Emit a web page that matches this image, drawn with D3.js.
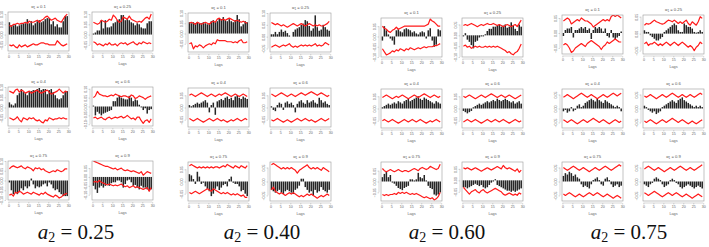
<!DOCTYPE html>
<html>
<head>
<meta charset="utf-8">
<script src="https://cdn.jsdelivr.net/npm/d3@7"></script>
<style>
  body { margin: 0; background: #fff; }
  svg { display: block; }
</style>
</head>
<body>
<div id="chart"></div>
<script>
'use strict';

// lags on the x axis of every small ACF panel
const lags = [1,2,3,4,5,6,7,8,9,10,11,12,13,14,15,16,17,18,19,20,21,22,23,24,25,26,27,28,29,30];
const a1Labels = ["0.1", "0.25", "0.4", "0.6", "0.75", "0.9"];
const a2Labels = ["0.25", "0.40", "0.60", "0.75"];
const xTicks = [0, 5, 10, 15, 20, 25, 30];
const yTicks = [-0.10, -0.05, 0.00, 0.05, 0.10];

// ---- a2 = 0.25 : six panels (a1 = 0.1 ... 0.9), bars + upper/lower red bands
const bars025 = [
  [0.06,0.045,0.045,0.05,0.04,0.045,0.05,0.055,0.055,0.075, 0.055,0.065,0.045,0.055,0.065,0.07,0.06,0.065,0.075,0.08, 0.08,0.05,0.065,0.04,0.05,0.035,0.035,0.065,0.09,0.09],
  [0.005,0.01,0.02,0.02,0.07,0.03,0.07,0.035,0.035,0.04, 0.055,0.06,0.07,0.075,0.095,0.095,0.07,0.075,0.07,0.06, 0.055,0.045,0.055,0.05,0.035,0.03,0.03,0.055,0.065,0.065],
  [0.025,0.015,0.01,0.02,0.06,0.07,0.09,0.075,0.07,0.06, 0.075,0.08,0.085,0.085,0.09,0.095,0.085,0.09,0.09,0.065, 0.085,0.09,0.075,0.06,0.045,0.04,0.045,0.06,0.075,0.08],
  [0.005,-0.05,-0.03,-0.04,-0.05,-0.04,-0.035,-0.03,-0.025,-0.02, 0.03,0.03,0.05,0.06,0.05,0.045,0.04,0.04,0.06,0.05, 0.03,0.04,0.035,0.01,-0.005,-0.02,-0.01,-0.04,-0.02,-0.015],
  [-0.01,-0.05,-0.07,-0.06,-0.07,-0.06,-0.04,-0.05,-0.03,-0.04, -0.03,0.01,-0.02,-0.04,-0.03,-0.035,-0.03,-0.02,-0.015,-0.03, -0.01,-0.02,-0.04,-0.05,-0.045,-0.06,-0.07,-0.08,-0.08,-0.08],
  [-0.05,-0.07,-0.09,-0.06,-0.05,-0.06,-0.05,-0.04,-0.05,-0.035, -0.03,-0.03,-0.02,-0.02,-0.03,-0.06,-0.04,-0.02,-0.015,-0.03, -0.05,-0.045,-0.06,-0.07,-0.05,-0.06,-0.06,-0.07,-0.08,-0.07]
];
const upper025 = [
  [0.045,0.04,0.05,0.05,0.055,0.05,0.055,0.055,0.06,0.055, 0.065,0.06,0.06,0.065,0.07,0.06,0.07,0.075,0.085,0.09, 0.08,0.07,0.075,0.08,0.07,0.065,0.06,0.075,0.09,0.1],
  [0.06,0.055,0.05,0.055,0.07,0.065,0.06,0.065,0.075,0.07, 0.095,0.085,0.07,0.06,0.065,0.085,0.08,0.075,0.09,0.075, 0.07,0.065,0.06,0.065,0.06,0.07,0.08,0.085,0.075,0.1],
  [0.08,0.075,0.07,0.085,0.09,0.075,0.085,0.08,0.07,0.075, 0.08,0.07,0.075,0.08,0.085,0.075,0.07,0.075,0.08,0.085, 0.075,0.065,0.07,0.075,0.08,0.09,0.08,0.07,0.08,0.075],
  [0.05,0.06,0.085,0.07,0.065,0.06,0.06,0.055,0.06,0.065, 0.06,0.07,0.065,0.06,0.055,0.06,0.06,0.055,0.05,0.065, 0.06,0.045,0.05,0.06,0.055,0.05,0.04,0.05,0.055,0.06],
  [0.06,0.07,0.075,0.07,0.065,0.07,0.075,0.065,0.06,0.07, 0.065,0.06,0.05,0.065,0.06,0.065,0.055,0.06,0.05,0.045, 0.04,0.045,0.05,0.045,0.055,0.05,0.045,0.05,0.06,0.06],
  [0.09,0.085,0.08,0.075,0.07,0.065,0.06,0.06,0.055,0.05, 0.045,0.05,0.04,0.045,0.05,0.04,0.035,0.04,0.035,0.03, 0.035,0.03,0.025,0.02,0.03,0.01,0.02,0.03,0.025,0.02]
];
const lower025 = [
  [-0.05,-0.055,-0.05,-0.06,-0.065,-0.05,-0.06,-0.055,-0.05,-0.06, -0.055,-0.05,-0.045,-0.05,-0.05,-0.045,-0.04,-0.04,-0.045,-0.045, -0.05,-0.05,-0.05,-0.05,-0.03,-0.04,-0.05,-0.055,-0.05,-0.045],
  [-0.035,-0.04,-0.05,-0.045,-0.05,-0.055,-0.045,-0.05,-0.04,-0.05, -0.05,-0.045,-0.055,-0.045,-0.04,-0.045,-0.04,-0.05,-0.045,-0.04, -0.035,-0.045,-0.05,-0.04,-0.045,-0.035,-0.04,-0.045,-0.04,-0.045],
  [-0.05,-0.055,-0.06,-0.055,-0.045,-0.06,-0.07,-0.05,-0.055,-0.06, -0.05,-0.055,-0.05,-0.06,-0.065,-0.06,-0.07,-0.075,-0.06,-0.065, -0.05,-0.055,-0.06,-0.055,-0.055,-0.05,-0.055,-0.05,-0.055,-0.055],
  [-0.065,-0.06,-0.07,-0.065,-0.06,-0.07,-0.075,-0.065,-0.06,-0.07, -0.065,-0.06,-0.065,-0.06,-0.055,-0.065,-0.06,-0.05,-0.06,-0.07, -0.065,-0.075,-0.06,-0.06,-0.08,-0.095,-0.08,-0.075,-0.09,-0.07],
  [-0.075,-0.07,-0.08,-0.06,-0.065,-0.055,-0.06,-0.07,-0.065,-0.06, -0.065,-0.07,-0.06,-0.065,-0.07,-0.075,-0.065,-0.07,-0.06,-0.07, -0.075,-0.08,-0.085,-0.075,-0.08,-0.09,-0.085,-0.075,-0.07,-0.065],
  [-0.03,-0.025,-0.03,-0.02,-0.03,-0.035,-0.04,-0.045,-0.04,-0.045, -0.05,-0.045,-0.05,-0.045,-0.04,-0.05,-0.055,-0.05,-0.06,-0.055, -0.05,-0.06,-0.055,-0.06,-0.065,-0.07,-0.065,-0.06,-0.08,-0.06]
];
const yRange025 = [[-0.08,0.11],[-0.08,0.11],[-0.09,0.10],[-0.11,0.11],[-0.10,0.10],[-0.13,0.09]];

// ---- a2 = 0.40
const bars040 = [
  [0.055,0.05,0.055,0.05,0.055,0.05,0.05,0.055,0.05,0.045, 0.05,0.06,0.065,0.055,0.06,0.075,0.07,0.08,0.065,0.06, 0.07,0.06,0.055,0.065,0.09,0.07,0.035,0.045,0.06,0.055],
  [0.01,0.01,0.02,0.01,0.02,0.03,0.02,0.025,0.015,0.005, 0.0,0.02,0.03,0.035,0.04,0.05,0.055,0.07,0.065,0.045, 0.025,0.035,0.09,0.04,0.025,0.03,0.05,0.04,0.03,0.025],
  [0.01,0.005,0.01,0.015,0.02,0.015,0.02,0.025,0.03,0.02, -0.02,0.01,0.02,-0.03,0.025,0.03,0.035,0.03,0.04,0.045, 0.035,0.04,0.03,0.045,0.05,0.04,0.035,0.045,0.04,0.035],
  [0.005,-0.01,-0.015,0.01,0.02,0.015,-0.01,0.02,0.025,0.015, 0.02,0.01,-0.02,0.015,0.025,0.03,0.02,0.015,0.03,0.02, 0.025,0.03,0.02,0.015,0.04,0.03,0.02,0.025,0.015,0.01],
  [0.03,0.025,0.01,-0.01,0.04,0.02,-0.01,-0.005,-0.02,-0.03, -0.04,-0.06,-0.05,-0.03,-0.02,-0.035,-0.025,-0.015,-0.01,-0.02, 0.01,0.02,-0.005,-0.01,-0.01,-0.02,-0.04,-0.035,-0.05,-0.06],
  [-0.03,-0.035,-0.04,-0.035,-0.03,-0.04,-0.045,-0.035,-0.03,-0.035, -0.04,-0.045,-0.03,-0.025,-0.015,0.01,0.01,-0.02,-0.03,-0.04, -0.035,-0.05,-0.03,-0.04,-0.035,-0.02,-0.03,-0.035,-0.04,-0.03]
];
const upper040 = [
  [0.05,0.055,0.05,0.045,0.055,0.05,0.045,0.05,0.055,0.05, 0.045,0.055,0.06,0.055,0.07,0.075,0.065,0.07,0.065,0.07, 0.075,0.07,0.065,0.06,0.065,0.06,0.055,0.06,0.055,0.05],
  [0.06,0.055,0.05,0.055,0.05,0.045,0.05,0.045,0.04,0.045, 0.05,0.055,0.05,0.045,0.05,0.055,0.05,0.045,0.05,0.055, 0.05,0.045,0.05,0.045,0.05,0.045,0.045,0.05,0.055,0.065],
  [0.05,0.055,0.05,0.045,0.05,0.055,0.06,0.055,0.05,0.045, 0.05,0.055,0.05,0.045,0.05,0.055,0.05,0.055,0.06,0.055, 0.05,0.045,0.05,0.055,0.05,0.045,0.05,0.055,0.05,0.045],
  [0.055,0.05,0.045,0.05,0.055,0.06,0.055,0.05,0.045,0.05, 0.055,0.05,0.045,0.05,0.055,0.06,0.055,0.05,0.055,0.06, 0.065,0.06,0.055,0.05,0.055,0.06,0.055,0.05,0.045,0.05],
  [0.065,0.07,0.065,0.06,0.055,0.06,0.055,0.06,0.055,0.06, 0.055,0.06,0.055,0.06,0.06,0.055,0.06,0.065,0.06,0.07, 0.065,0.06,0.055,0.065,0.06,0.055,0.065,0.06,0.055,0.065],
  [0.06,0.065,0.06,0.055,0.05,0.045,0.05,0.045,0.05,0.045, 0.05,0.045,0.04,0.03,0.04,0.045,0.05,0.055,0.06,0.05, 0.045,0.05,0.045,0.05,0.045,0.04,0.05,0.045,0.04,0.035]
];
const lower040 = [
  [-0.05,-0.045,-0.075,-0.06,-0.065,-0.055,-0.06,-0.07,-0.06,-0.055, -0.05,-0.055,-0.045,-0.05,-0.03,-0.035,-0.035,-0.035,-0.035,-0.04, -0.04,-0.04,-0.045,-0.04,-0.045,-0.035,-0.03,-0.045,-0.045,-0.04],
  [-0.045,-0.04,-0.035,-0.04,-0.045,-0.04,-0.035,-0.04,-0.035,-0.03, -0.04,-0.045,-0.04,-0.045,-0.04,-0.035,-0.04,-0.035,-0.04,-0.035, -0.04,-0.035,-0.03,-0.04,-0.035,-0.04,-0.035,-0.025,-0.03,-0.035],
  [-0.045,-0.05,-0.055,-0.05,-0.045,-0.05,-0.055,-0.06,-0.055,-0.05, -0.045,-0.05,-0.055,-0.05,-0.045,-0.05,-0.055,-0.05,-0.055,-0.06, -0.055,-0.05,-0.055,-0.05,-0.045,-0.05,-0.055,-0.05,-0.045,-0.05],
  [-0.05,-0.055,-0.05,-0.045,-0.05,-0.055,-0.06,-0.055,-0.05,-0.055, -0.06,-0.055,-0.05,-0.045,-0.05,-0.055,-0.05,-0.045,-0.05,-0.055, -0.05,-0.055,-0.06,-0.055,-0.05,-0.045,-0.05,-0.055,-0.05,-0.045],
  [-0.045,-0.05,-0.045,-0.04,-0.045,-0.05,-0.045,-0.04,-0.035,-0.03, -0.035,-0.04,-0.03,-0.035,-0.04,-0.045,-0.05,-0.045,-0.05,-0.045, -0.05,-0.055,-0.05,-0.055,-0.05,-0.055,-0.06,-0.055,-0.065,-0.065],
  [-0.03,-0.02,-0.035,-0.04,-0.045,-0.04,-0.045,-0.05,-0.045,-0.04, -0.045,-0.04,-0.045,-0.05,-0.055,-0.05,-0.055,-0.05,-0.045,-0.05, -0.045,-0.05,-0.055,-0.06,-0.055,-0.05,-0.055,-0.05,-0.045,-0.05]
];
const yRange040 = [[-0.09,0.10],[-0.065,0.10],[-0.08,0.08],[-0.08,0.08],[-0.08,0.08],[-0.07,0.07]];

// ---- a2 = 0.60
const bars060 = [
  [-0.02,0.05,0.03,0.01,-0.01,-0.02,-0.04,0.03,0.035,0.025, 0.02,0.035,0.04,0.035,0.03,0.02,0.025,0.015,0.01,0.02, 0.025,0.02,-0.01,0.03,0.04,-0.02,-0.05,-0.04,0.035,0.03],
  [-0.005,0.01,-0.02,-0.03,-0.045,-0.06,-0.03,-0.025,-0.01,-0.005, -0.005,0.005,0.02,0.03,0.03,0.04,0.04,0.045,0.05,0.04, 0.045,0.05,0.035,0.04,0.06,0.045,0.03,0.02,0.05,0.04],
  [0.005,0.01,0.015,0.02,0.015,0.02,0.025,0.02,0.03,0.025, 0.02,0.03,0.035,0.04,0.03,0.035,0.04,0.045,0.05,0.04, 0.035,0.045,0.04,0.035,0.03,0.025,0.02,0.03,0.025,0.02],
  [-0.01,-0.015,-0.02,-0.015,-0.01,0.005,0.01,0.015,0.02,0.015, 0.02,0.025,0.03,0.025,0.03,0.035,0.03,0.04,0.035,0.03, 0.035,0.04,0.035,0.03,0.025,0.03,0.02,0.025,0.03,0.02],
  [0.02,0.035,0.045,0.02,0.03,-0.005,-0.01,-0.02,-0.03,-0.035, -0.04,-0.03,-0.025,-0.02,0.01,0.01,0.005,0.01,0.04,0.02, 0.015,0.03,0.005,-0.02,-0.03,-0.035,-0.06,-0.065,-0.06,-0.05],
  [-0.03,-0.03,-0.035,-0.03,-0.025,-0.02,-0.015,-0.02,-0.025,-0.02, -0.03,-0.035,-0.03,-0.02,-0.01,-0.005,0.005,-0.02,-0.025,-0.03, -0.035,-0.04,-0.045,-0.045,-0.05,-0.045,-0.05,-0.045,-0.04,-0.035]
];
const upper060 = [
  [0.05,0.04,0.035,0.025,0.02,0.03,0.035,0.045,0.035,0.04, 0.045,0.05,0.05,0.05,0.05,0.05,0.05,0.05,0.05,0.05, 0.05,0.05,0.055,0.06,0.085,0.075,0.07,0.06,0.05,0.05],
  [0.045,0.05,0.045,0.05,0.055,0.05,0.045,0.04,0.045,0.05, 0.045,0.05,0.055,0.05,0.05,0.055,0.05,0.045,0.05,0.045, 0.04,0.045,0.05,0.045,0.04,0.045,0.05,0.04,0.055,0.07],
  [0.045,0.05,0.055,0.05,0.045,0.04,0.045,0.05,0.045,0.05, 0.055,0.05,0.045,0.04,0.045,0.05,0.055,0.05,0.045,0.05, 0.055,0.06,0.055,0.05,0.045,0.05,0.055,0.05,0.045,0.05],
  [0.05,0.045,0.05,0.055,0.05,0.045,0.04,0.045,0.05,0.055, 0.05,0.045,0.05,0.055,0.06,0.055,0.05,0.045,0.05,0.055, 0.05,0.045,0.05,0.055,0.05,0.045,0.04,0.045,0.05,0.055],
  [0.06,0.05,0.045,0.05,0.055,0.05,0.045,0.05,0.055,0.05, 0.045,0.05,0.05,0.045,0.05,0.055,0.06,0.055,0.05,0.06, 0.065,0.06,0.055,0.06,0.07,0.065,0.06,0.055,0.06,0.08],
  [0.055,0.05,0.055,0.05,0.045,0.05,0.055,0.05,0.045,0.04, 0.045,0.05,0.055,0.05,0.045,0.05,0.055,0.06,0.055,0.05, 0.065,0.055,0.05,0.055,0.05,0.045,0.04,0.05,0.035,0.045]
];
const lower060 = [
  [-0.06,-0.075,-0.09,-0.085,-0.08,-0.07,-0.075,-0.065,-0.07,-0.06, -0.065,-0.07,-0.06,-0.065,-0.055,-0.06,-0.065,-0.06,-0.055,-0.06, -0.055,-0.05,-0.055,-0.05,-0.05,-0.05,-0.045,-0.045,-0.04,-0.035],
  [-0.05,-0.045,-0.055,-0.05,-0.06,-0.055,-0.05,-0.055,-0.05,-0.055, -0.055,-0.05,-0.055,-0.05,-0.055,-0.05,-0.055,-0.05,-0.055,-0.06, -0.065,-0.07,-0.08,-0.075,-0.085,-0.09,-0.08,-0.075,-0.06,-0.04],
  [-0.05,-0.045,-0.05,-0.055,-0.05,-0.045,-0.05,-0.055,-0.06,-0.055, -0.05,-0.045,-0.05,-0.055,-0.05,-0.045,-0.05,-0.055,-0.05,-0.045, -0.05,-0.055,-0.06,-0.055,-0.05,-0.055,-0.05,-0.045,-0.05,-0.055],
  [-0.055,-0.05,-0.045,-0.05,-0.055,-0.05,-0.045,-0.05,-0.055,-0.06, -0.055,-0.05,-0.045,-0.05,-0.055,-0.05,-0.045,-0.05,-0.055,-0.05, -0.045,-0.05,-0.055,-0.06,-0.055,-0.05,-0.045,-0.05,-0.055,-0.05],
  [-0.06,-0.065,-0.06,-0.065,-0.06,-0.06,-0.055,-0.06,-0.05,-0.055, -0.05,-0.055,-0.05,-0.055,-0.06,-0.055,-0.06,-0.055,-0.06,-0.065, -0.07,-0.075,-0.07,-0.075,-0.08,-0.075,-0.085,-0.08,-0.07,-0.05],
  [-0.03,-0.04,-0.05,-0.06,-0.05,-0.045,-0.04,-0.05,-0.055,-0.045, -0.04,-0.05,-0.055,-0.05,-0.045,-0.04,-0.035,-0.04,-0.045,-0.05, -0.06,-0.065,-0.06,-0.055,-0.06,-0.065,-0.06,-0.065,-0.055,-0.06]
];
const yRange060 = [[-0.10,0.09],[-0.10,0.08],[-0.08,0.08],[-0.08,0.08],[-0.09,0.09],[-0.09,0.08]];

// ---- a2 = 0.75
const bars075 = [
  [-0.01,0.01,0.015,0.015,0.02,-0.015,0.01,0.01,0.015,0.02, 0.015,0.02,0.01,0.015,-0.02,0.01,0.02,0.015,0.02,0.015, 0.005,0.015,-0.01,-0.015,0.01,-0.015,-0.02,-0.015,-0.01,0.005],
  [0.01,0.005,0.005,-0.005,-0.01,-0.015,-0.02,-0.02,-0.015,-0.01, 0.005,0.01,0.015,0.02,0.025,0.03,0.025,0.01,0.005,0.005, 0.03,0.025,0.02,0.02,0.015,0.005,0.003,0.005,0.01,0.005],
  [-0.01,-0.005,-0.015,-0.01,0.005,-0.01,-0.005,0.01,0.015,0.005, 0.01,0.02,0.025,0.03,0.035,0.03,0.025,0.035,0.03,0.025, 0.02,0.03,0.025,0.02,0.015,0.01,0.005,0.01,0.005,-0.01],
  [0.01,0.005,-0.005,-0.01,-0.015,-0.01,-0.02,-0.015,-0.01,0.005, 0.01,0.015,0.02,0.025,0.03,0.025,0.02,0.03,0.035,0.04, 0.03,0.025,0.02,0.015,0.01,0.005,0.01,0.005,0.01,0.005],
  [0.02,0.03,0.025,0.035,0.03,0.02,0.025,0.015,0.01,-0.01, -0.02,-0.015,-0.02,-0.025,-0.01,0.005,0.01,0.015,0.005,-0.01, -0.015,0.01,0.015,0.005,-0.01,-0.02,-0.015,-0.01,-0.02,-0.015],
  [-0.01,-0.015,-0.02,-0.01,-0.005,0.01,0.015,0.01,0.005,-0.01, -0.02,-0.015,-0.01,0.005,0.01,0.005,-0.005,-0.01,-0.02,-0.025, -0.02,-0.015,-0.01,-0.015,-0.02,-0.025,-0.02,-0.015,-0.02,-0.025]
];
const upper075 = [
  [0.04,0.045,0.05,0.045,0.03,0.035,0.04,0.045,0.04,0.05, 0.045,0.04,0.04,0.035,0.03,0.02,0.025,0.03,0.035,0.04, 0.045,0.04,0.045,0.04,0.055,0.06,0.055,0.06,0.055,0.05],
  [0.025,0.03,0.028,0.03,0.035,0.04,0.035,0.033,0.03,0.028, 0.03,0.035,0.04,0.038,0.035,0.04,0.035,0.03,0.035,0.03, 0.035,0.04,0.03,0.025,0.035,0.03,0.025,0.035,0.05,0.045],
  [0.04,0.045,0.05,0.045,0.04,0.035,0.04,0.045,0.05,0.055, 0.05,0.045,0.04,0.045,0.05,0.045,0.04,0.035,0.04,0.045, 0.05,0.045,0.04,0.045,0.05,0.055,0.05,0.045,0.05,0.055],
  [0.045,0.04,0.045,0.05,0.045,0.04,0.035,0.04,0.045,0.05, 0.045,0.04,0.045,0.05,0.055,0.05,0.045,0.04,0.045,0.05, 0.045,0.04,0.045,0.05,0.045,0.04,0.045,0.05,0.055,0.05],
  [0.05,0.045,0.04,0.045,0.05,0.055,0.05,0.045,0.04,0.045, 0.05,0.045,0.04,0.035,0.04,0.045,0.05,0.045,0.04,0.045, 0.05,0.055,0.05,0.045,0.04,0.045,0.05,0.055,0.06,0.055],
  [0.045,0.05,0.055,0.05,0.045,0.04,0.045,0.05,0.045,0.04, 0.035,0.04,0.045,0.05,0.045,0.04,0.045,0.05,0.055,0.05, 0.045,0.04,0.045,0.05,0.045,0.04,0.045,0.05,0.055,0.06]
];
const lower075 = [
  [-0.04,-0.035,-0.04,-0.05,-0.065,-0.06,-0.05,-0.045,-0.04,-0.035, -0.04,-0.045,-0.035,-0.03,-0.025,-0.03,-0.035,-0.04,-0.045,-0.055, -0.045,-0.04,-0.03,-0.035,-0.03,-0.025,-0.02,-0.025,-0.03,-0.03],
  [-0.03,-0.025,-0.035,-0.03,-0.03,-0.025,-0.03,-0.035,-0.03,-0.035, -0.03,-0.025,-0.03,-0.035,-0.03,-0.025,-0.03,-0.035,-0.03,-0.025, -0.03,-0.035,-0.04,-0.035,-0.04,-0.05,-0.04,-0.035,-0.025,-0.03],
  [-0.04,-0.045,-0.05,-0.045,-0.04,-0.045,-0.05,-0.055,-0.05,-0.045, -0.04,-0.045,-0.05,-0.045,-0.04,-0.035,-0.04,-0.045,-0.05,-0.045, -0.04,-0.045,-0.05,-0.055,-0.05,-0.045,-0.04,-0.045,-0.05,-0.045],
  [-0.045,-0.05,-0.045,-0.04,-0.045,-0.05,-0.055,-0.05,-0.045,-0.04, -0.045,-0.05,-0.045,-0.04,-0.035,-0.04,-0.045,-0.05,-0.045,-0.04, -0.045,-0.05,-0.055,-0.05,-0.045,-0.05,-0.055,-0.05,-0.045,-0.04],
  [-0.045,-0.05,-0.045,-0.04,-0.045,-0.05,-0.055,-0.05,-0.045,-0.05, -0.055,-0.05,-0.045,-0.04,-0.045,-0.05,-0.045,-0.04,-0.045,-0.05, -0.055,-0.05,-0.045,-0.05,-0.055,-0.06,-0.055,-0.05,-0.055,-0.06],
  [-0.04,-0.045,-0.05,-0.045,-0.04,-0.035,-0.04,-0.045,-0.05,-0.055, -0.05,-0.045,-0.04,-0.045,-0.05,-0.045,-0.04,-0.045,-0.05,-0.055, -0.05,-0.045,-0.05,-0.055,-0.06,-0.055,-0.05,-0.045,-0.05,-0.055]
];
const yRange075 = [[-0.07,0.06],[-0.06,0.055],[-0.07,0.07],[-0.07,0.07],[-0.07,0.07],[-0.07,0.07]];

const groups = [
  { bars: bars025, upper: upper025, lower: lower025, yr: yRange025 },
  { bars: bars040, upper: upper040, lower: lower040, yr: yRange040 },
  { bars: bars060, upper: upper060, lower: lower060, yr: yRange060 },
  { bars: bars075, upper: upper075, lower: lower075, yr: yRange075 }
];

// layout (pixels)
const W = 709, H = 247;
const panelW = 61, panelH = 39;
const colX = [[8, 92], [188, 270], [381, 462], [562, 643]];
const rowY = [[12, 87, 161], [13, 88, 162], [18, 89, 162], [15, 89, 162]];
const labelX = [76, 262, 447, 629];

const svg = d3.select("#chart").append("svg")
  .attr("width", W)
  .attr("height", H)
  .style("background", "#fff");

const font = "Liberation Sans, Arial, sans-serif";
let clipId = 0;

function drawPanel(g, x0, y0, title, bars, up, lo, yr) {
  const x = d3.scaleLinear().domain([-0.2, 30.4]).range([x0, x0 + panelW]);
  const y = d3.scaleLinear().domain(yr).range([y0 + panelH, y0]);
  const bw = x(1) - x(0);

  const cid = "clip" + (clipId++);
  g.append("clipPath").attr("id", cid)
    .append("rect")
      .attr("x", x0).attr("y", y0)
      .attr("width", panelW).attr("height", panelH);
  const plot = g.append("g").attr("clip-path", `url(#${cid})`);

  plot.append("g")
    .selectAll("rect")
    .data(lags)
    .join("rect")
      .attr("x", d => x(d - 1) + 0.12 * bw)
      .attr("width", 0.76 * bw)
      .attr("y", (d, i) => y(Math.max(0, bars[i])))
      .attr("height", (d, i) => Math.abs(y(bars[i]) - y(0)))
      .attr("fill", "#262626");

  const line = d3.line()
    .x((d, i) => x(lags[i] - 0.5))
    .y(d => y(d));

  [up, lo].forEach(s => {
    plot.append("path")
      .datum(s)
      .attr("d", line)
      .attr("fill", "none")
      .attr("stroke", "#ff1a1a")
      .attr("stroke-width", 1.2)
      .attr("stroke-linejoin", "round");
  });

  // box
  g.append("rect")
    .attr("x", x0).attr("y", y0)
    .attr("width", panelW).attr("height", panelH)
    .attr("fill", "none")
    .attr("stroke", "#9a9a9a")
    .attr("stroke-width", 0.6);

  // x axis
  const xa = g.append("g")
    .attr("transform", `translate(0,${y0 + panelH + 2})`)
    .call(d3.axisBottom(x).tickValues(xTicks).tickSize(1.5).tickSizeOuter(0).tickPadding(1));
  xa.select(".domain").attr("d", `M${x(0)},0H${x(30)}`);
  xa.selectAll("line, path").attr("stroke", "#999").attr("stroke-width", 0.4);
  xa.selectAll("text")
    .attr("font-size", 3.6)
    .attr("font-family", font)
    .attr("fill", "#666");

  // y axis, labels parallel to the axis (0.05 steps)
  const yt = yTicks.filter(v => v >= yr[0] - 1e-9 && v <= yr[1] + 1e-9);
  const ya = g.append("g")
    .attr("transform", `translate(${x0 - 2},0)`)
    .call(d3.axisLeft(y).tickValues(yt).tickFormat(d3.format(".2f")).tickSize(1.5).tickSizeOuter(0));
  ya.select(".domain").attr("d", `M0,${y(yt[0])}V${y(yt[yt.length - 1])}`);
  ya.selectAll("line, path").attr("stroke", "#999").attr("stroke-width", 0.4);
  ya.selectAll("text")
    .attr("transform", "rotate(-90)")
    .attr("text-anchor", "middle")
    .attr("x", 0)
    .attr("y", -2.6)
    .attr("dy", 0)
    .attr("font-size", 3.6)
    .attr("font-family", font)
    .attr("fill", "#666");

  // title  alpha_1 = ...
  const t = g.append("text")
    .attr("x", x0 + panelW / 2)
    .attr("y", y0 - 4)
    .attr("text-anchor", "middle")
    .attr("font-size", 4.2)
    .attr("font-family", font)
    .attr("fill", "#555");
  t.append("tspan").text("α");
  t.append("tspan").attr("font-size", 3).attr("dy", 1).text("1");
  t.append("tspan").attr("dy", -1).text(" = " + title);

  g.append("text")
    .attr("x", x0 + panelW / 2)
    .attr("y", y0 + panelH + 14)
    .attr("text-anchor", "middle")
    .attr("font-size", 3.8)
    .attr("font-family", font)
    .attr("fill", "#666")
    .text("Lags");
}

groups.forEach((grp, gi) => {
  const g = svg.append("g");
  for (let p = 0; p < 6; p++) {
    const r = Math.floor(p / 2), c = p % 2;
    drawPanel(g, colX[gi][c], rowY[gi][r], a1Labels[p],
      grp.bars[p], grp.upper[p], grp.lower[p], grp.yr[p]);
  }

  // bottom caption  a_2 = ...
  const cap = svg.append("text")
    .attr("x", labelX[gi])
    .attr("y", 239)
    .attr("text-anchor", "middle")
    .attr("font-family", "Liberation Serif, DejaVu Serif, serif")
    .attr("font-size", 21)
    .attr("fill", "#111");
  cap.append("tspan").attr("font-style", "italic").text("a");
  cap.append("tspan").attr("font-size", 14).attr("dy", 3).text("2");
  cap.append("tspan").attr("dy", -3).text(" = " + a2Labels[gi]);
});
</script>
</body>
</html>
